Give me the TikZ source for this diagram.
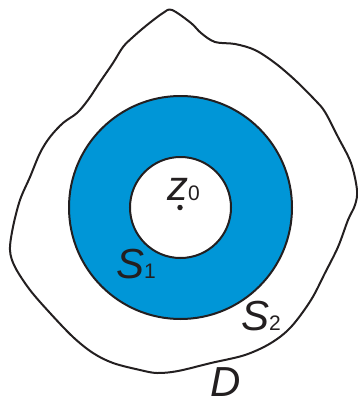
\documentclass[tikz,border=0pt]{standalone}
\usepackage{fontspec}
\setmainfont{Liberation Sans}
\definecolor{ringblue}{RGB}{0,150,215}
\definecolor{ink}{RGB}{35,31,32}
\tikzset{
  outline/.style={draw=ink, line width=2pt},
  lbl/.style={inner sep=0pt, outer sep=0pt, anchor=base west, text=ink,
    font=\fontsize{42}{50}\selectfont},
}
\newcommand{\subsz}[1]{{\fontsize{21}{21}\selectfont #1}}
\begin{document}
\begin{tikzpicture}[x=1pt, y=-1pt]
\useasboundingbox (0,0) rectangle (358,402);
% domain D
\draw[outline, line join=round] plot[smooth cycle, tension=0.55] coordinates {
 (172,10) (191,23) (201,33) (215,42) (235,44) (255,50) (275,63) (295,80)
 (315,100) (325,112) (338,137) (351,163) (357,190) (355,205) (348,220)
 (338,247) (325,273) (311,300) (291,327) (271,343) (245,355) (211,363)
 (178,371) (157,373) (140,370) (113,363) (93,353) (73,337) (50,313)
 (30,290) (15,267) (10,250) (13,227) (20,200) (30,177) (40,153) (50,137)
 (63,123) (77,113) (88,100) (100,82) (113,63) (123,47) (133,37) (147,25)
 (163,13)};
% annulus
\fill[ringblue, even odd rule] (180.5,207.5) circle[radius=111.5] (180.5,207.5) circle[radius=50.5];
\draw[outline] (180.5,207.5) circle[radius=111.5];
\draw[outline] (180.5,207.5) circle[radius=50.5];
% centre point
\node[circle, fill=ink, inner sep=0pt, minimum size=5.5pt] (z0pt) at (180,207.5) {};
\node[lbl] (z0) at (167,200) {\itshape z\subsz{\upshape 0}};
\node[lbl] (s1) at (116,278) {\itshape S\subsz{\upshape 1}};
\node[lbl] (s2) at (241,330) {\itshape S\subsz{\upshape 2}};
\node[lbl] (d) at (210,396) {\itshape D};
\end{tikzpicture}
\end{document}
